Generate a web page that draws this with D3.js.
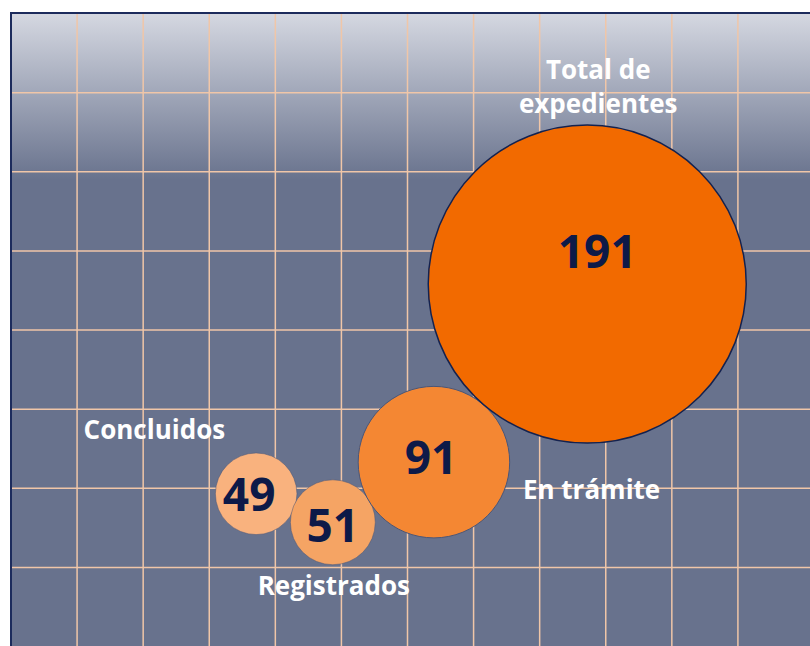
<!DOCTYPE html>
<html>
<head>
<meta charset="utf-8">
<script src="https://cdn.jsdelivr.net/npm/d3@7"></script>
<style>
  body { margin: 0; background: #ffffff; }
  svg { display: block; }
  text { font-family: "Open Sans", "Noto Sans", sans-serif; font-weight: bold; }
</style>
</head>
<body>
<svg id="chart" width="810" height="646"></svg>
<script>
// datos
var categorias = ["Concluidos", "Registrados", "En trámite", "Total de expedientes"];
var valores = [49, 51, 91, 191];
var posX = [3.71, 4.87, 6.40, 8.72];
var posY = [1.93, 1.57, 2.33, 4.58];
var colores = ["#f9b27e", "#f5a464", "#f48733", "#f26a00"];

var svg = d3.select("#chart");

var x = d3.scaleLinear().domain([0, 12]).range([11, 804]);
var y = d3.scaleLinear().domain([0, 8]).range([646.5, 13.5]);
var r = d3.scaleLinear().domain([0, 191]).range([0, 159]);

// fondo con degradado
var defs = svg.append("defs");
var grad = defs.append("linearGradient")
  .attr("id", "fondo")
  .attr("gradientUnits", "userSpaceOnUse")
  .attr("x1", 0).attr("y1", 13).attr("x2", 0).attr("y2", 180);
grad.append("stop").attr("offset", 0).attr("stop-color", "#d5d8e1");
grad.append("stop").attr("offset", 1).attr("stop-color", "#68728d");

svg.append("rect")
  .attr("x", 10).attr("y", 12)
  .attr("width", 800).attr("height", 640)
  .style("fill", "url(#fondo)");

// rejilla
var grid = svg.append("g");
grid.selectAll("line.v").data(d3.range(1, 12)).enter().append("line")
  .attr("class", "v")
  .attr("x1", function(d) { return x(d); })
  .attr("x2", function(d) { return x(d); })
  .attr("y1", 13).attr("y2", 646)
  .style("stroke", "#f0c6a8").style("stroke-width", 1.5);
grid.selectAll("line.h").data(d3.range(1, 8)).enter().append("line")
  .attr("class", "h")
  .attr("y1", function(d) { return y(d); })
  .attr("y2", function(d) { return y(d); })
  .attr("x1", 11).attr("x2", 810)
  .style("stroke", "#f0c6a8").style("stroke-width", 1.5);

// borde
svg.append("path")
  .attr("d", "M11,646 L11,13 L810,13")
  .style("fill", "none").style("stroke", "#1c2b5c").style("stroke-width", 2);

var bubbles = valores.map(function(v, i) {
  return { cat: categorias[i], valor: v, x: posX[i], y: posY[i], color: colores[i] };
});

// burbujas
var bubbleG = svg.append("g");
bubbleG.selectAll("circle").data(bubbles).enter().append("circle")
  .attr("cx", function(d) { return x(d.x); })
  .attr("cy", function(d) { return y(d.y); })
  .attr("r", function(d) { return r(d.valor); })
  .style("fill", function(d) { return d.color; })
  .style("stroke", function(d, i) { return i == 3 ? "#14224f" : "#4a5678"; })
  .style("stroke-width", function(d, i) { return i == 3 ? 1.5 : 1; })
  .style("stroke-opacity", function(d, i) { return i < 2 ? 0.5 : 1; });

// valores dentro de las burbujas
var numDx = [-7, 0, -3, 10];
var numDy = [17, 20, 12, -16];
bubbleG.selectAll("text.num").data(bubbles).enter().append("text")
  .attr("class", "num")
  .attr("x", function(d, i) { return x(d.x) + numDx[i]; })
  .attr("y", function(d, i) { return y(d.y) + numDy[i]; })
  .attr("text-anchor", "middle")
  .style("font-size", "46px")
  .style("fill", "#0d1a48")
  .text(function(d) { return d.valor; });

// etiquetas de categoria
var etiquetas = svg.append("g").style("fill", "#ffffff").style("font-size", "26px");

var b = bubbles;
etiquetas.append("text")
  .attr("x", x(b[0].x) - 31).attr("y", y(b[0].y) - 55)
  .attr("text-anchor", "end")
  .text(b[0].cat);
etiquetas.append("text")
  .attr("x", x(b[1].x) + 1).attr("y", y(b[1].y) + 73)
  .attr("text-anchor", "middle")
  .text(b[1].cat);
etiquetas.append("text")
  .attr("x", x(b[2].x) + 89).attr("y", y(b[2].y) + 37)
  .attr("text-anchor", "start")
  .text(b[2].cat);
var total = etiquetas.append("text")
  .attr("x", x(b[3].x) + 11).attr("y", y(b[3].y) - 205)
  .attr("text-anchor", "middle");
total.append("tspan").attr("x", x(b[3].x) + 11).text("Total de");
total.append("tspan").attr("x", x(b[3].x) + 11).attr("dy", 34).text("expedientes");
</script>
</body>
</html>
